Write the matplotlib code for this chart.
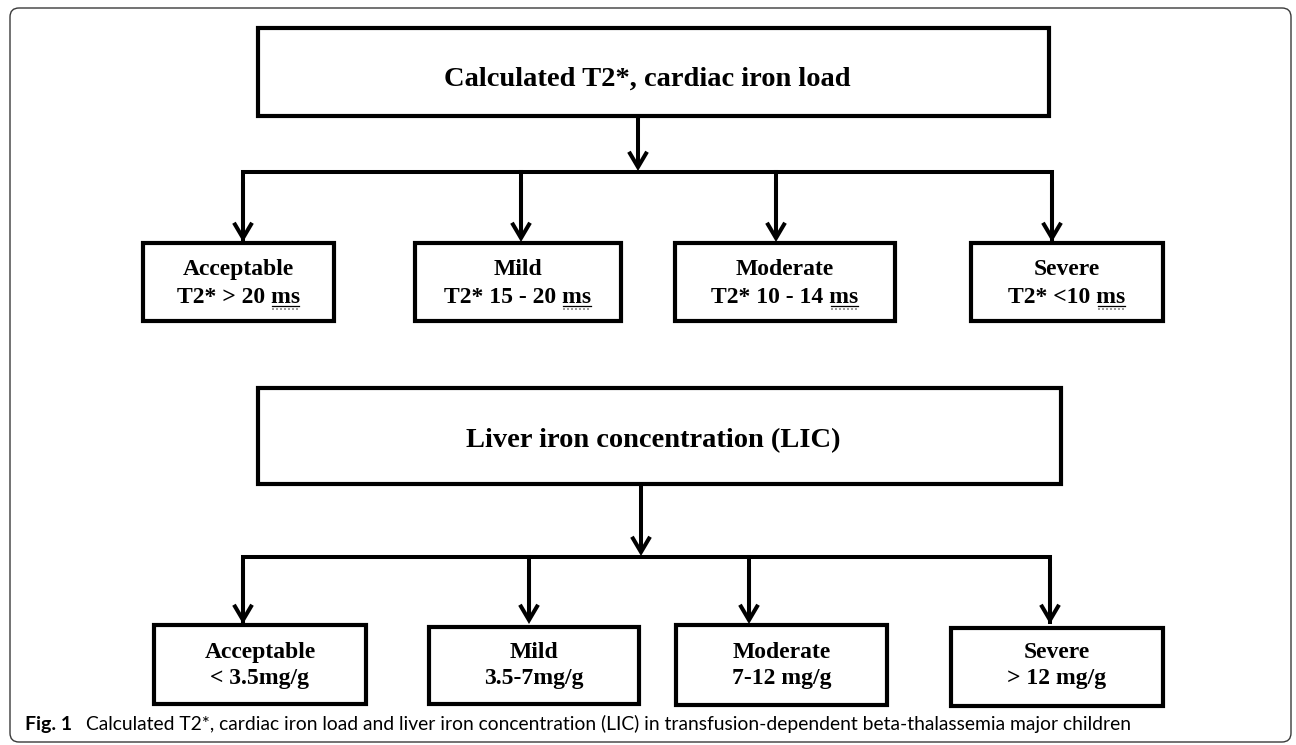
import matplotlib
matplotlib.use("Agg")
import matplotlib.pyplot as plt
from matplotlib.patches import Rectangle, FancyBboxPatch, FancyArrowPatch, ArrowStyle

# ---------------- content ----------------
heart_title = "Calculated T2*, cardiac iron load"
heart_grades = ["Acceptable", "Mild", "Moderate", "Severe"]
heart_ranges = ["T2* > 20 ", "T2* 15 - 20 ", "T2* 10 - 14 ", "T2* <10 "]
heart_unit = "ms"

liver_title = "Liver iron concentration (LIC)"
liver_grades = ["Acceptable", "Mild", "Moderate", "Severe"]
liver_ranges = ["< 3.5mg/g", "3.5-7mg/g", "7-12 mg/g", "> 12 mg/g"]

caption_label = "Fig. 1"
caption_text = ("Calculated T2*, cardiac iron load and liver iron concentration (LIC) in "
                "transfusion-dependent beta-thalassemia major children")

# ---------------- layout (pixels) ----------------
W, H = 1296, 745
fig = plt.figure(figsize=(W / 100, H / 100), dpi=100)
ax = fig.add_axes([0, 0, 1, 1])
ax.set_xlim(0, W)
ax.set_ylim(H, 0)
ax.axis("off")

SERIF = ["Liberation Serif", "DejaVu Serif"]
BOX_LW = 3.0
LINE_LW = 2.9

# outer frame
ax.add_patch(FancyBboxPatch((10, 8), 1281, 734, boxstyle="round,pad=0,rounding_size=9",
                            fill=False, ec="#3a3a3a", lw=1.0))


def box(x0, y0, x1, y1):
    ax.add_patch(Rectangle((x0, y0), x1 - x0, y1 - y0, fill=False, ec="black",
                           lw=BOX_LW, joinstyle="miter"))


def line(xs, ys):
    ax.plot(xs, ys, color="black", lw=LINE_LW, solid_capstyle="projecting",
            solid_joinstyle="miter")


def arrow(x, y0, y1):
    st = ArrowStyle("->", head_length=11, head_width=6.5)
    ax.add_patch(FancyArrowPatch((x, y0), (x, y1), arrowstyle=st, mutation_scale=1,
                                 lw=LINE_LW, color="black", shrinkA=0, shrinkB=0,
                                 joinstyle="miter", capstyle="butt"))


def tree(title, title_box, title_base, trunk_x, bar_y, branch_x, tip_y, boxes):
    box(*title_box)
    ax.text((title_box[0] + title_box[2]) / 2 - 6, title_base, title, family=SERIF,
            weight="bold", fontsize=20.5, ha="center", va="baseline")
    arrow(trunk_x, title_box[3], bar_y - 1)
    line([branch_x[0], branch_x[0], branch_x[-1], branch_x[-1]],
         [tip_y - 2, bar_y, bar_y, tip_y - 2])
    for bx in branch_x[1:-1]:
        line([bx, bx], [bar_y, tip_y - 14])
    for bx in branch_x:
        arrow(bx, bar_y + 10, tip_y)
    for b in boxes:
        box(*b)


# ---------- top tree ----------
top_boxes = [(143, 243, 334, 321), (415, 243, 621, 321), (675, 243, 895, 321), (971, 243, 1163, 321)]
tree(heart_title, (258, 28, 1049, 116), 86, 638, 172, [243, 521, 776, 1052], 242, top_boxes)

fig.canvas.draw()
renderer = fig.canvas.get_renderer()
inv = ax.transData.inverted()

for (x0, y0, x1, y1), g, r in zip(top_boxes, heart_grades, heart_ranges):
    cx = (x0 + x1) / 2
    ax.text(cx, 275, g, family=SERIF, weight="bold", fontsize=17, ha="center", va="baseline")
    t = ax.text(cx, 303, r + heart_unit, family=SERIF, weight="bold", fontsize=17,
                ha="center", va="baseline")
    u = ax.text(0, 0, heart_unit, family=SERIF, weight="bold", fontsize=17, alpha=0)
    bb = t.get_window_extent(renderer)
    ub = u.get_window_extent(renderer)
    u.remove()
    xr = inv.transform([(bb.x1, bb.y0)])[0][0]
    xl = xr - ub.width
    ax.plot([xl + 1, xr - 1], [305.5, 305.5], color="black", lw=0.9)
    ax.plot([xl + 1, xr - 1], [309, 309], color="#8a8a8a", lw=1.2, ls=(0, (1.2, 1.2)))

# ---------- bottom tree ----------
bot_boxes = [(154, 625, 366, 704), (429, 627, 639, 704), (676, 625, 887, 705), (951, 628, 1163, 706)]
tree(liver_title, (258, 388, 1061, 484), 447, 641, 557, [243, 529, 749, 1050], 624, bot_boxes)

for (x0, y0, x1, y1), g, r in zip(bot_boxes, liver_grades, liver_ranges):
    cx = (x0 + x1) / 2
    ax.text(cx, 658, g, family=SERIF, weight="bold", fontsize=17, ha="center", va="baseline")
    ax.text(cx, 684, r, family=SERIF, weight="bold", fontsize=17, ha="center", va="baseline")

# ---------- caption ----------
SANS = ["Lato", "DejaVu Sans"]
cap_fs = 13.5
ax.text(25, 730, caption_label, family=SANS, weight="bold", fontsize=14,
        ha="left", va="baseline")
x_txt = 86
txt = ax.text(x_txt, 730, caption_text, family=SANS, fontsize=cap_fs, ha="left", va="baseline")
fig.canvas.draw()
tb = txt.get_window_extent(renderer)
x_end = inv.transform([(tb.x1, 0)])[0][0]
scale = (1137 - x_txt) / (x_end - x_txt)
txt.set_fontsize(cap_fs * scale)

fig.savefig("out.png", dpi=100)
